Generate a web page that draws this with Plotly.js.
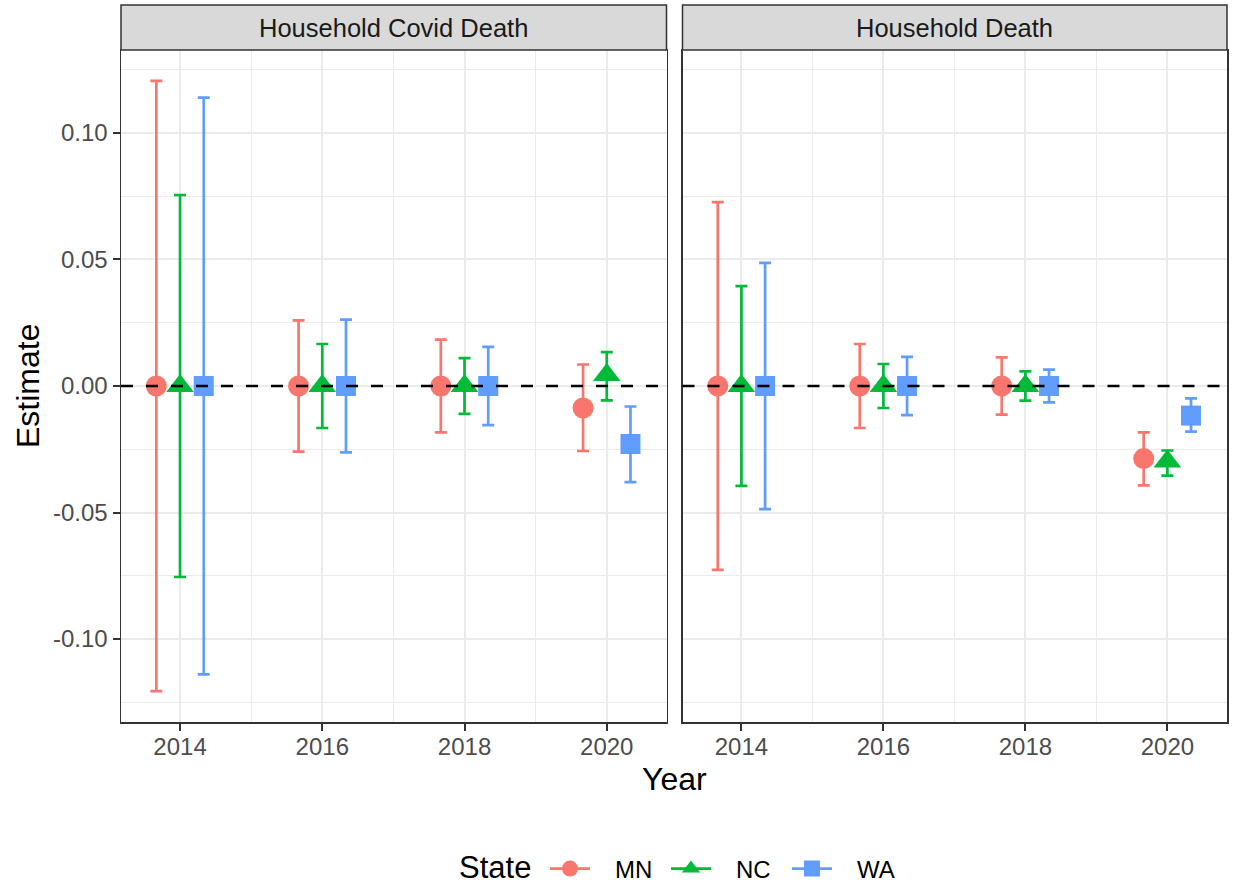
<!DOCTYPE html>
<html>
<head>
<meta charset="utf-8">
<script src="https://cdn.plot.ly/plotly-3.0.1.min.js"></script>
<style>html,body{margin:0;padding:0;background:#fff;}#chart{width:1233px;height:886px;}</style>
</head>
<body>
<div id="chart"></div>
<script>
// ---- data ----
const years = [2014, 2016, 2018, 2020];
const states = ['MN', 'NC', 'WA'];
const panels = ['Household Covid Death', 'Household Death'];
const legendTitle = 'State';

// Household Covid Death
const covidMNest = [0, 0, 0, -0.0087];
const covidMNlo  = [-0.1206, -0.0259, -0.0183, -0.0257];
const covidMNhi  = [0.1206, 0.0259, 0.0183, 0.0085];
const covidNCest = [0, 0, 0, 0.0043];
const covidNClo  = [-0.0755, -0.0166, -0.0110, -0.0057];
const covidNChi  = [0.0755, 0.0166, 0.0110, 0.0134];
const covidWAest = [0, 0, 0, -0.0229];
const covidWAlo  = [-0.1140, -0.0262, -0.0155, -0.0380];
const covidWAhi  = [0.1140, 0.0262, 0.0155, -0.0081];

// Household Death
const deathMNest = [0, 0, 0, -0.0287];
const deathMNlo  = [-0.0727, -0.0166, -0.0113, -0.0393];
const deathMNhi  = [0.0727, 0.0166, 0.0113, -0.0183];
const deathNCest = [0, 0, 0, -0.0298];
const deathNClo  = [-0.0395, -0.0087, -0.0058, -0.0354];
const deathNChi  = [0.0395, 0.0087, 0.0058, -0.0255];
const deathWAest = [0, 0, 0, -0.0117];
const deathWAlo  = [-0.0487, -0.0115, -0.0065, -0.0180];
const deathWAhi  = [0.0487, 0.0115, 0.0065, -0.0049];

const yTickVals = [-0.10, -0.05, 0.00, 0.05, 0.10];
const yTickText = ['-0.10', '-0.05', '0.00', '0.05', '0.10'];
const yMinorVals = [-0.125, -0.075, -0.025, 0.025, 0.075, 0.125];
const xTickVals = [2014, 2016, 2018, 2020];
const xTickText = ['2014', '2016', '2018', '2020'];
const xMinorVals = [2013, 2015, 2017, 2019, 2021];

// ---- styling ----
const colors = {MN: '#F8766D', NC: '#00BA38', WA: '#619CFF'};
const symbols = {MN: 'circle', NC: 'triangle-up', WA: 'square'};
const sizes = {MN: 21, NC: 24, WA: 20};
const dodge = {MN: -1/3, NC: 0, WA: 1/3};
const FONT = '"Liberation Sans", Arial, Helvetica, sans-serif';
const NBSP = '\u00A0\u00A0\u00A0';

const panelData = [
  {MN: [covidMNest, covidMNlo, covidMNhi], NC: [covidNCest, covidNClo, covidNChi], WA: [covidWAest, covidWAlo, covidWAhi]},
  {MN: [deathMNest, deathMNlo, deathMNhi], NC: [deathNCest, deathNClo, deathNChi], WA: [deathWAest, deathWAlo, deathWAhi]}
];

const traces = [];
panelData.forEach((pd, pi) => {
  states.forEach(s => {
    const [est, lo, hi] = pd[s];
    traces.push({
      type: 'scatter', mode: 'markers',
      x: years.map(y => y + dodge[s]),
      y: est,
      xaxis: pi === 0 ? 'x' : 'x2',
      yaxis: pi === 0 ? 'y' : 'y2',
      name: s, legendgroup: s, showlegend: false,
      marker: {color: colors[s], symbol: symbols[s], size: sizes[s], line: {width: 0}},
      error_y: {
        type: 'data', symmetric: false,
        array: hi.map((h, i) => h - est[i]),
        arrayminus: lo.map((l, i) => est[i] - l),
        color: colors[s], thickness: 2.7, width: 6
      },
      hoverinfo: 'skip'
    });
  });
});
// legend entries
states.forEach(s => {
  traces.push({
    type: 'scatter', mode: 'lines+markers',
    x: [null], y: [null], xaxis: 'x', yaxis: 'y',
    name: NBSP + s, legendgroup: s, showlegend: true,
    marker: {color: colors[s], symbol: symbols[s], size: 16},
    line: {color: colors[s], width: 2.7}
  });
});

const L = 121, R = 6, T = 50, B = 164;
const W = 1233, H = 886;
const pw = W - L - R, ph = H - T - B;
const leftEnd = (666.5 - L) / pw;
const rightStart = (682.5 - L) / pw;
const stripH = 45 / ph;

const xbase = {
  range: [2013.17, 2020.84],
  tickmode: 'array', tickvals: xTickVals, ticktext: xTickText,
  ticks: 'outside', ticklen: 7, tickwidth: 2, tickcolor: '#333333', ticklabelstandoff: -4,
  tickfont: {family: FONT, size: 24, color: '#4D4D4D'},
  showgrid: true, gridcolor: '#EBEBEB', gridwidth: 2,
  minor: {tickmode: 'array', tickvals: xMinorVals, showgrid: true, gridcolor: '#EBEBEB', gridwidth: 1, ticks: ''},
  showline: true, mirror: true, linecolor: '#333333', linewidth: 1.5,
  zeroline: false, fixedrange: true
};
const ybase = {
  range: [-0.1328, 0.1328],
  tickmode: 'array', tickvals: yTickVals, ticktext: yTickText,
  ticks: 'outside', ticklen: 7, tickwidth: 2, tickcolor: '#333333',
  tickfont: {family: FONT, size: 24, color: '#4D4D4D'},
  showgrid: true, gridcolor: '#EBEBEB', gridwidth: 2,
  minor: {tickmode: 'array', tickvals: yMinorVals, showgrid: true, gridcolor: '#EBEBEB', gridwidth: 1, ticks: ''},
  showline: true, mirror: true, linecolor: '#333333', linewidth: 1.5,
  zeroline: false, fixedrange: true
};

const layout = {
  width: W, height: H,
  margin: {l: L, r: R, t: T, b: B, pad: 0, autoexpand: false},
  paper_bgcolor: '#FFFFFF', plot_bgcolor: '#FFFFFF',
  font: {family: FONT, color: '#000000'},
  showlegend: true,
  xaxis: Object.assign({}, xbase, {domain: [0, leftEnd], anchor: 'y'}),
  xaxis2: Object.assign({}, xbase, {domain: [rightStart, 1], anchor: 'y2'}),
  yaxis: Object.assign({}, ybase, {domain: [0, 1], anchor: 'x'}),
  yaxis2: Object.assign({}, ybase, {domain: [0, 1], anchor: 'x2', matches: 'y', showticklabels: false, ticks: ''}),
  legend: {
    orientation: 'h', x: (545 - L) / pw, xanchor: 'left', y: (722 - 869) / ph, yanchor: 'middle',
    font: {family: FONT, size: 24, color: '#000000'},
    itemwidth: 40, entrywidth: 66, entrywidthmode: 'pixels', bgcolor: 'rgba(0,0,0,0)'
  },
  shapes: [
    {type: 'rect', xref: 'x domain', yref: 'paper', x0: 0, x1: 1, y0: 1, y1: 1 + stripH,
     fillcolor: '#D9D9D9', line: {color: '#333333', width: 1.5}, layer: 'above'},
    {type: 'rect', xref: 'x2 domain', yref: 'paper', x0: 0, x1: 1, y0: 1, y1: 1 + stripH,
     fillcolor: '#D9D9D9', line: {color: '#333333', width: 1.5}, layer: 'above'},
    {type: 'line', xref: 'x domain', yref: 'y', x0: 0, x1: 1, y0: 0, y1: 0,
     line: {color: '#000000', width: 2.5, dash: '12px,13px'}, layer: 'above'},
    {type: 'line', xref: 'x2 domain', yref: 'y2', x0: 0, x1: 1, y0: 0, y1: 0,
     line: {color: '#000000', width: 2.5, dash: '12px,13px'}, layer: 'above'}
  ],
  annotations: [
    {text: panels[0], xref: 'x domain', yref: 'paper', x: 0.5, y: 1 + stripH / 2, xanchor: 'center', yanchor: 'middle',
     showarrow: false, font: {family: FONT, size: 25.5, color: '#1A1A1A'}},
    {text: panels[1], xref: 'x2 domain', yref: 'paper', x: 0.5, y: 1 + stripH / 2, xanchor: 'center', yanchor: 'middle',
     showarrow: false, font: {family: FONT, size: 25.5, color: '#1A1A1A'}},
    {text: 'Year', xref: 'paper', yref: 'paper', x: 0.5, y: (722 - 779) / ph, xanchor: 'center', yanchor: 'middle',
     showarrow: false, font: {family: FONT, size: 32, color: '#000000'}},
    {text: 'Estimate', xref: 'paper', yref: 'paper', x: (28 - L) / pw, y: 0.5, xanchor: 'center', yanchor: 'middle',
     textangle: -90, showarrow: false, font: {family: FONT, size: 32, color: '#000000'}},
    {text: legendTitle, xref: 'paper', yref: 'paper', x: (457 - L) / pw, y: (722 - 868) / ph, xanchor: 'left', yanchor: 'middle',
     showarrow: false, font: {family: FONT, size: 31, color: '#000000'}}
  ]
};

Plotly.newPlot('chart', traces, layout, {displayModeBar: false, staticPlot: true});
</script>
</body>
</html>
